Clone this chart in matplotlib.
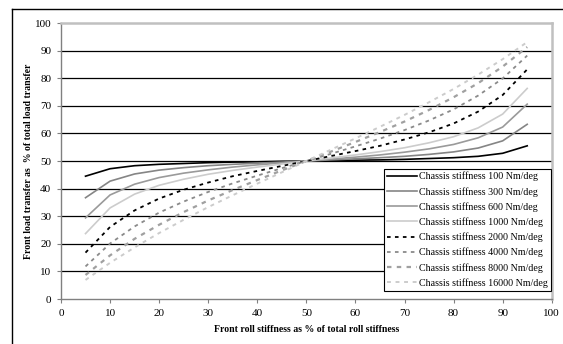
import matplotlib
matplotlib.use("Agg")
import matplotlib.pyplot as plt
from matplotlib.lines import Line2D

# Front roll stiffness (% of total)
x = [5, 10, 15, 20, 25, 30, 35, 40, 45, 50, 55, 60, 65, 70, 75, 80, 85, 90, 95]

# Front load transfer (% of total) for each chassis stiffness
s100 = [44.5, 47.2, 48.3, 48.8, 49.1, 49.4, 49.6, 49.7, 49.9, 50.0,
        50.1, 50.3, 50.4, 50.6, 50.9, 51.2, 51.7, 52.8, 55.5]
s300 = [36.7, 42.7, 45.3, 46.7, 47.6, 48.3, 48.8, 49.2, 49.6, 50.0,
        50.4, 50.8, 51.2, 51.7, 52.4, 53.3, 54.7, 57.3, 63.3]
s600 = [29.4, 37.7, 41.6, 44.0, 45.6, 46.8, 47.8, 48.6, 49.3, 50.0,
        50.7, 51.4, 52.2, 53.2, 54.4, 56.0, 58.4, 62.3, 70.6]
s1000 = [23.7, 33.0, 38.0, 41.2, 43.4, 45.2, 46.6, 47.8, 48.9, 50.0,
         51.1, 52.2, 53.4, 54.8, 56.6, 58.8, 62.0, 67.0, 76.3]
s2000 = [16.8, 26.1, 32.1, 36.4, 39.6, 42.2, 44.5, 46.4, 48.2, 50.0,
         51.8, 53.6, 55.5, 57.8, 60.4, 63.6, 67.9, 73.9, 83.2]
s4000 = [11.8, 20.1, 26.3, 31.3, 35.3, 38.8, 41.9, 44.7, 47.4, 50.0,
         52.6, 55.3, 58.1, 61.2, 64.7, 68.7, 73.7, 79.9, 88.2]
s8000 = [8.7, 15.8, 21.8, 26.9, 31.5, 35.7, 39.5, 43.1, 46.6, 50.0,
         53.4, 56.9, 60.5, 64.3, 68.5, 73.1, 78.2, 84.2, 91.3]
s16000 = [6.9, 13.1, 18.7, 23.9, 28.7, 33.3, 37.6, 41.8, 45.9, 50.0,
          54.1, 58.2, 62.4, 66.7, 71.3, 76.1, 81.3, 86.9, 93.1]

labels = ["Chassis stiffness 100 Nm/deg", "Chassis stiffness 300 Nm/deg",
          "Chassis stiffness 600 Nm/deg", "Chassis stiffness 1000 Nm/deg",
          "Chassis stiffness 2000 Nm/deg", "Chassis stiffness 4000 Nm/deg",
          "Chassis stiffness 8000 Nm/deg", "Chassis stiffness 16000 Nm/deg"]

plt.rcParams["font.family"] = ["Liberation Serif", "DejaVu Serif"]

fig = plt.figure(figsize=(5.63, 3.44), dpi=100)
ax = fig.add_axes([0.1083, 0.1308, 0.9800 - 0.1083, 0.9331 - 0.1308])

# gridlines
for v in range(10, 100, 10):
    ax.axhline(v, color="black", lw=0.9, zorder=1)

series = [s100, s300, s600, s1000, s2000, s4000, s8000, s16000]
styles = [
    dict(color="black", ls="-", lw=1.2),
    dict(color="#858585", ls="-", lw=1.2),
    dict(color="#9a9a9a", ls="-", lw=1.2),
    dict(color="#cccccc", ls="-", lw=1.2),
    dict(color="black", ls=(0, (2.0, 2.4)), lw=1.3),
    dict(color="#8a8a8a", ls=(0, (2.0, 2.4)), lw=1.3),
    dict(color="#a0a0a0", ls=(0, (2.0, 2.4)), lw=1.6),
    dict(color="#cccccc", ls=(0, (2.0, 2.4)), lw=1.4),
]
for y, st, lab in zip(series, styles, labels):
    ax.plot(x, y, label=lab, zorder=3, **st)

ax.set_xlim(0, 100)
ax.set_ylim(0, 100)
ax.set_xticks(range(0, 101, 10))
ax.set_yticks(range(0, 101, 10))
ax.tick_params(direction="out", length=3, width=0.8, color="#808080",
               labelsize=8, pad=4)

for side in ["left", "bottom"]:
    ax.spines[side].set_color("#808080")
    ax.spines[side].set_linewidth(1.0)
for side in ["top", "right"]:
    ax.spines[side].set_color("#c0c0c0")
    ax.spines[side].set_linewidth(1.8)

ax.set_xlabel("Front roll stiffness as % of total roll stiffness",
              fontsize=7, fontweight="bold", labelpad=5)
ax.set_ylabel("Front load transfer as  % of total load transfer",
              fontsize=7, fontweight="bold", labelpad=1)

leg = ax.legend(loc="lower right", bbox_to_anchor=(0.9975, 0.03),
                fontsize=7.2, frameon=True, fancybox=False, framealpha=1,
                edgecolor="black", borderpad=0.3, labelspacing=0.55,
                handlelength=3.0, handletextpad=0.2, borderaxespad=0)
leg.get_frame().set_linewidth(0.8)
leg.set_zorder(5)

# outer chart frame (left and top edges visible)
fl = 11.7 / 563
ft = 1 - 9 / 344
fig.add_artist(Line2D([fl, fl], [0, ft], color="black", lw=1.0))
fig.add_artist(Line2D([fl, 1], [ft, ft], color="black", lw=1.0))

fig.savefig("out.png", dpi=100)
